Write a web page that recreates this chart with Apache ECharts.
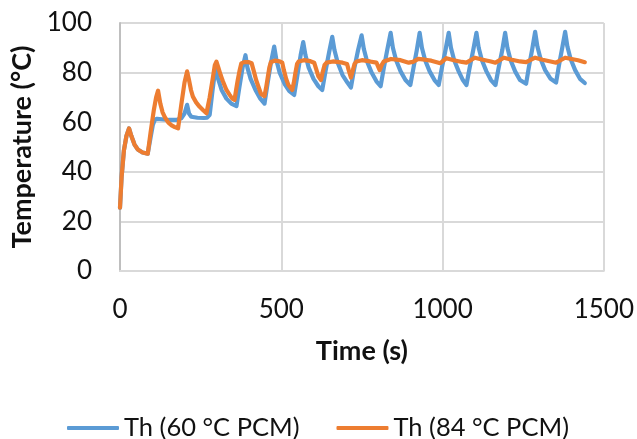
<!DOCTYPE html>
<html>
<head>
<meta charset="utf-8">
<script src="https://cdn.jsdelivr.net/npm/echarts@6/dist/echarts.min.js"></script>
<style>
html,body{margin:0;padding:0;background:#fff;}
#c{width:637px;height:439px;}
</style>
</head>
<body>
<div id="c"></div>
<script>
// Data
const timeBlue = [0,5,12,20,28,35,45,55,70,86,95,102,108,115,130,150,175,190,200,208,214,221,240,260,270,278,287,296,303,315,330,345,361,370,380,389,395,405,420,435,448,458,468,478,485,495,510,525,540,550,560,568,575,585,600,615,627,637,648,658,665,675,690,705,716,726,738,749,756,766,780,795,808,818,829,839,846,856,870,885,900,910,920,929,936,946,960,975,988,998,1009,1019,1026,1036,1050,1063,1074,1084,1095,1105,1112,1122,1136,1150,1164,1174,1185,1194,1201,1211,1225,1240,1259,1268,1278,1287,1294,1304,1318,1335,1352,1361,1371,1380,1387,1397,1411,1426,1441];
const tempBlue = [25.5,38,48.5,54.5,57.5,54.5,51,49,47.8,47.3,54,59,61,61.4,61.2,60.9,60.9,61.6,63.5,67,63.5,62.2,61.8,61.7,61.8,63,73,82,78,73,69.5,67.5,66.5,74,82,87,82,77.5,73,69.5,67.5,76,84,90.5,85,80,75.5,72.5,71,79,87,92.3,87,82,77.5,74.5,73,80.5,88,94.4,89,84,79,76,74,81.5,89,95,89.5,84.5,80,76.5,74.5,82,89.5,96,90,85,80.5,77,75,82,89,96,90,85,80.5,77,75,82,89,96,90,85,80.5,77,75,82,89,96,90,85,80.5,77,75,82,89,96,90,85,80.5,77,75.5,82.5,89.5,96.4,90.5,85.5,81,77.5,76,83,90,96.4,90.5,85.5,81,77.5,75.8];

const timeOrange = [0,5,12,20,28,35,45,55,70,86,95,105,112,118,125,132,139,150,160,170,180,190,200,208,214,220,226,236,247,258,268,278,288,294,299,305,312,319,330,340,348,355,360,365,371,376,385,400,408,415,422,430,437,448,453,458,463,468,480,495,503,508,515,522,534,539,544,549,554,570,590,602,608,615,623,628,634,640,660,690,704,709,716,721,727,733,750,775,795,800,805,811,818,840,870,895,900,908,925,945,965,993,1012,1035,1060,1074,1100,1125,1150,1164,1190,1215,1240,1259,1287,1310,1335,1352,1380,1400,1420,1441];
const tempOrange = [25.5,38,48.5,54.5,57.5,54.5,51,49,47.8,47.3,56,65,70,72.7,67.5,64,62,59.8,58.7,58,57.5,67,76,80.5,77,73,70.3,68,66.2,64.8,63.6,70,78,83,84.4,82,79,76.5,73,71,69.5,69,73,77,81,83.7,84.2,84.2,83.8,80.5,77,74,71.5,70.5,74,78,82,84.3,84.8,84.5,84,81,77.5,75,73,76,80,83.5,84.5,85,84.6,84,81.5,78.5,77,80,83,84,84.5,84,83.5,81,78,80.5,83.5,84.5,85,84.5,84,82.5,81,83,84.5,85.5,85,84,83.3,84.3,85.5,85.2,84.8,83.8,85.8,85,84.3,84,86,85.2,84.5,84,86,85.2,84.5,84.2,86,85.2,84.5,84,86,85.5,85,84.2];

const xTicks = [0, 500, 1000, 1500];
const yTicks = [0, 20, 40, 60, 80, 100];
const seriesNames = ['Th (60 °C PCM)', 'Th (84 °C PCM)'];

function zip(a, b) { return a.map((t, i) => [t, b[i]]); }

const FONT = 'Lato';
const TXT = '#111';
const chart = echarts.init(document.getElementById('c'), null, {renderer: 'canvas'});
chart.setOption({
  animation: false,
  backgroundColor: '#ffffff',
  grid: {left: 120, right: 31, top: 23, bottom: 168, containLabel: false},
  legend: {
    data: seriesNames.map(n => ({name: n, icon: 'roundRect'})),
    left: 62, top: 410,
    itemWidth: 52, itemHeight: 4, itemGap: 37,
    textStyle: {fontFamily: FONT, fontSize: 25.5, color: TXT}
  },
  xAxis: {
    type: 'value', min: xTicks[0], max: xTicks[xTicks.length - 1], interval: 500,
    name: 'Time (s)', nameLocation: 'middle', nameGap: 67,
    nameTextStyle: {fontFamily: FONT, fontSize: 27, fontWeight: 'bold', color: TXT},
    axisLine: {show: true, lineStyle: {color: '#d9d9d9', width: 2}},
    axisTick: {show: false},
    axisLabel: {fontFamily: FONT, fontSize: 26, color: TXT, margin: 26, formatter: v => String(v)},
    splitLine: {show: true, lineStyle: {color: '#d9d9d9', width: 2}}
  },
  yAxis: {
    type: 'value', min: yTicks[0], max: yTicks[yTicks.length - 1], interval: 20,
    name: 'Temperature (°C)', nameLocation: 'middle', nameGap: 84, nameRotate: 90,
    nameTextStyle: {fontFamily: FONT, fontSize: 27, fontWeight: 'bold', color: TXT},
    axisLine: {show: true, lineStyle: {color: '#bfbfbf', width: 2}},
    axisTick: {show: false},
    axisLabel: {fontFamily: FONT, fontSize: 26, color: TXT, margin: 28, formatter: v => String(v)},
    splitLine: {show: true, lineStyle: {color: '#d9d9d9', width: 2}}
  },
  series: [
    {
      name: seriesNames[0], type: 'line', symbol: 'none',
      data: zip(timeBlue, tempBlue),
      lineStyle: {color: '#5b9bd5', width: 4.2, cap: 'round', join: 'round'},
      itemStyle: {color: '#5b9bd5'}
    },
    {
      name: seriesNames[1], type: 'line', symbol: 'none',
      data: zip(timeOrange, tempOrange),
      lineStyle: {color: '#ed7d31', width: 4.2, cap: 'round', join: 'round'},
      itemStyle: {color: '#ed7d31'}
    }
  ]
});
</script>
</body>
</html>
